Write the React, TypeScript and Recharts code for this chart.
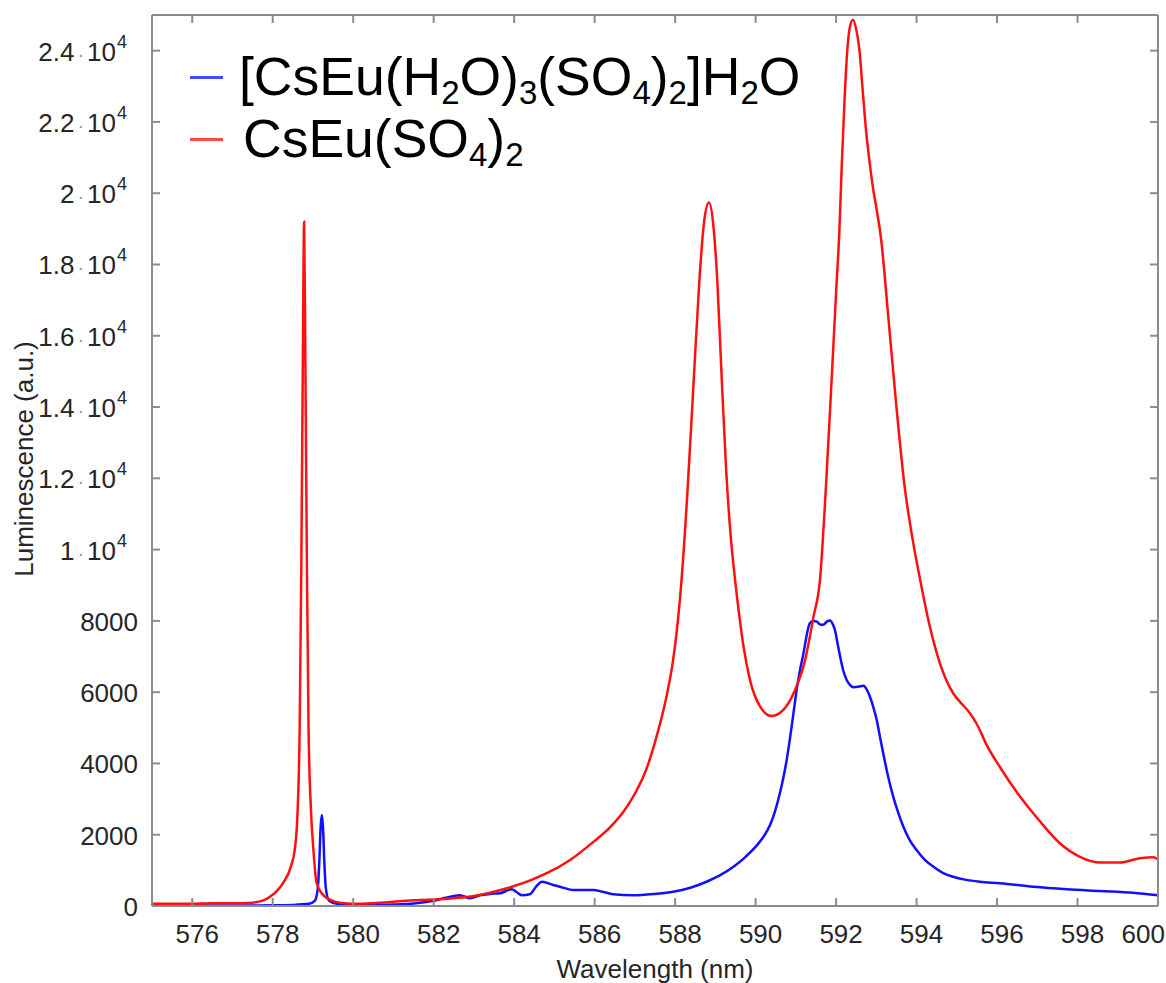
import React from "react";
import { LineChart, Line, XAxis, YAxis, Legend } from "recharts";

// [wavelength nm, luminescence a.u.]
const hydrateSpectrum: [number, number][] = [
  [575.0, 20], [576.0, 20], [577.0, 15], [578.0, 20], [578.5, 30], [578.9, 60],
  [579.05, 150], [579.12, 500], [579.16, 1300], [579.19, 2200], [579.22, 2550],
  [579.25, 2200], [579.28, 1300], [579.32, 500], [579.4, 150], [579.6, 60],
  [580.0, 30], [580.5, 30], [581.0, 40], [581.5, 70], [582.0, 150], [582.3, 230],
  [582.65, 300], [582.9, 220], [583.15, 300], [583.4, 340], [583.65, 360],
  [583.94, 470], [584.05, 400], [584.19, 300], [584.39, 330], [584.55, 550],
  [584.69, 680], [584.97, 590], [585.2, 520], [585.47, 450], [585.97, 450],
  [586.2, 400], [586.46, 330], [586.96, 300], [587.5, 340], [587.95, 400],
  [588.4, 520], [588.78, 680], [589.1, 850], [589.45, 1100], [589.75, 1380],
  [590.03, 1700], [590.2, 1950], [590.35, 2250], [590.48, 2650], [590.6, 3150],
  [590.69, 3600], [590.78, 4150], [590.86, 4750], [590.94, 5400], [591.02, 6060],
  [591.1, 6600], [591.19, 7090], [591.27, 7600], [591.35, 7940], [591.43, 8000],
  [591.52, 7980], [591.6, 7900], [591.68, 7890], [591.77, 7980], [591.85, 8010],
  [591.92, 7900], [591.97, 7750], [592.04, 7350], [592.1, 7000], [592.18, 6600],
  [592.26, 6350], [592.35, 6200], [592.43, 6140], [592.55, 6150], [592.68, 6180],
  [592.76, 6080], [592.84, 5880], [592.92, 5600], [593.01, 5220], [593.09, 4750],
  [593.17, 4290], [593.3, 3600], [593.42, 3070], [593.55, 2600], [593.67, 2230],
  [593.83, 1850], [594.0, 1570], [594.2, 1300], [594.42, 1100], [594.65, 930],
  [594.91, 820], [595.2, 740], [595.58, 680], [596.07, 640], [596.9, 540],
  [597.73, 470], [598.56, 420], [599.38, 370], [600.0, 300],
];

const anhydrousSpectrum: [number, number][] = [
  [575.0, 60], [575.5, 60], [576.0, 65], [576.5, 80], [577.0, 80], [577.4, 85],
  [577.6, 110], [577.8, 170], [577.93, 260], [578.1, 420], [578.26, 650], [578.45, 1100],
  [578.55, 1600], [578.62, 2700], [578.67, 5000], [578.71, 9500], [578.75, 15500],
  [578.78, 19200], [578.81, 15500], [578.85, 9500], [578.89, 5000], [578.95, 2700],
  [579.01, 1600], [579.09, 650], [579.3, 260], [579.67, 90], [580.0, 60], [580.5, 80],
  [581.0, 120], [581.33, 150], [582.0, 180], [582.5, 220], [583.0, 280], [583.5, 400],
  [584.0, 560], [584.4, 720], [584.81, 920], [585.4, 1300], [585.97, 1800],
  [586.35, 2170], [586.72, 2650], [587.0, 3150], [587.29, 3850], [587.55, 4800],
  [587.79, 5900], [587.95, 6900], [588.04, 7700], [588.16, 9150], [588.3, 11500],
  [588.45, 14500], [588.6, 17500], [588.72, 19200], [588.84, 19740], [588.95, 19100],
  [589.05, 17500], [589.15, 15000], [589.27, 12200], [589.38, 10400], [589.49, 9150],
  [589.6, 8100], [589.7, 7280], [589.86, 6345], [590.11, 5600], [590.4, 5330],
  [590.69, 5500], [590.98, 6060], [591.23, 6900], [591.44, 8120], [591.6, 9150],
  [591.75, 11800], [591.9, 15000], [592.0, 17200], [592.08, 18900], [592.14, 20750],
  [592.21, 22600], [592.28, 24030], [592.35, 24700], [592.42, 24870], [592.5, 24600],
  [592.58, 24030], [592.66, 22900], [592.75, 21700], [592.83, 20900], [592.91, 20200],
  [593.0, 19600], [593.12, 18700], [593.3, 16500], [593.5, 14000], [593.7, 11800],
  [593.9, 10300], [594.09, 9150], [594.33, 7840], [594.58, 6810], [594.91, 5970],
  [595.1, 5700], [595.3, 5450], [595.5, 5100], [595.75, 4500], [596.07, 3900],
  [596.57, 3070], [597.07, 2370], [597.56, 1760], [598.06, 1380], [598.56, 1220],
  [599.05, 1220], [599.55, 1340], [599.88, 1370], [600.0, 1310],
];

const wavelengthTicks = [576, 578, 580, 582, 584, 586, 588, 590, 592, 594, 596, 598, 600];
const intensityTicks = [0, 2000, 4000, 6000, 8000, 10000, 12000, 14000, 16000, 18000, 20000, 22000, 24000];

// legend names as [text, subscript?] runs
const hydrateName: [string, boolean][] = [
  ["[CsEu(H", false], ["2", true], ["O)", false], ["3", true], ["(SO", false],
  ["4", true], [")", false], ["2", true], ["]H", false], ["2", true], ["O", false],
];
const anhydrousName: [string, boolean][] = [
  ["CsEu(SO", false], ["4", true], [")", false], ["2", true],
];

const FRAME = "#8c8c8c";
const INK = "#262626";
const FONT = "'Liberation Sans', Arial, Helvetica, sans-serif";
const BLUE = "#1010ff";
const RED = "#ff1010";

const toPoints = (s: [number, number][]) => s.map(([x, y]) => ({ x, y }));

const XTickBottom = ({ x, y, payload }: any) => {
  const last = payload.value === 600;
  return (
    <g>
      <line x1={x} x2={x} y1={y} y2={y - 8} stroke={FRAME} strokeWidth={2} />
      <text
        x={last ? x + 7 : x + 5}
        y={y + 37}
        textAnchor={last ? "end" : "middle"}
        fontFamily={FONT}
        fontSize={26}
        fill={INK}
      >
        {payload.value}
      </text>
    </g>
  );
};

const XTickTop = ({ x, y }: any) => (
  <line x1={x} x2={x} y1={y} y2={y + 8} stroke={FRAME} strokeWidth={2} />
);

const YTickLeft = ({ x, y, payload }: any) => {
  const v = payload.value as number;
  return (
    <g>
      <line x1={x} x2={x + 8} y1={y} y2={y} stroke={FRAME} strokeWidth={2} />
      {v < 10000 ? (
        <text x={x - 14} y={y + 10} textAnchor="end" fontFamily={FONT} fontSize={26} fill={INK}>
          {v}
        </text>
      ) : (
        <text x={x - 25} y={y + 10} textAnchor="end" fontFamily={FONT} fontSize={26} fill={INK}>
          {String(v / 10000)}
          <tspan dx={3} fontSize={20} fill="#999">·</tspan>
          <tspan dx={3}>10</tspan>
          <tspan dx={1} dy={-13} fontSize={18}>4</tspan>
        </text>
      )}
    </g>
  );
};

const YTickRight = ({ x, y }: any) => (
  <line x1={x} x2={x - 8} y1={y} y2={y} stroke={FRAME} strokeWidth={2} />
);

const Formula = ({ runs }: { runs: [string, boolean][] }) => (
  <>
    {runs.map(([t, sub], i) =>
      sub ? (
        <span key={i} style={{ fontSize: 33, position: "relative", top: 9, lineHeight: 1 }}>
          {t}
        </span>
      ) : (
        <span key={i}>{t}</span>
      )
    )}
  </>
);

const legendRows = [
  { runs: hydrateName, color: "#4848ff", textLeft: 239 },
  { runs: anhydrousName, color: "#ff4848", textLeft: 243 },
];

const renderLegend = () => (
  <div style={{ position: "relative", width: 1166, height: 0, fontFamily: FONT, fontSize: 53.5, color: "#000" }}>
    {legendRows.map((r, i) => (
      <div key={i} style={{ position: "absolute", left: 0, top: 46 + i * 62, height: 62, lineHeight: "62px", whiteSpace: "nowrap" }}>
        <div style={{ position: "absolute", left: 190, top: 30, width: 33, height: 3, background: r.color }} />
        <div style={{ position: "absolute", left: r.textLeft, top: 0 }}>
          <Formula runs={r.runs} />
        </div>
      </div>
    ))}
  </div>
);

export default function App() {
  return (
    <div style={{ position: "absolute", left: 0, top: 0, background: "#fff" }}>
      <LineChart width={1166} height={983} margin={{ top: 14, right: 7, bottom: 0, left: 0 }}>
        <XAxis
          xAxisId="b"
          dataKey="x"
          type="number"
          domain={[575, 600]}
          allowDataOverflow
          ticks={wavelengthTicks}
          interval={0}
          height={77}
          tickSize={0}
          tickMargin={0}
          tickLine={false}
          axisLine={{ stroke: FRAME, strokeWidth: 2 }}
          tick={<XTickBottom />}
          label={() => (
            <text x={655} y={978} textAnchor="middle" fontFamily={FONT} fontSize={26} fill={INK}>
              Wavelength (nm)
            </text>
          )}
        />
        <XAxis
          xAxisId="t"
          dataKey="x"
          type="number"
          orientation="top"
          domain={[575, 600]}
          allowDataOverflow
          ticks={wavelengthTicks}
          interval={0}
          height={1}
          tickSize={0}
          tickMargin={0}
          tickLine={false}
          axisLine={{ stroke: FRAME, strokeWidth: 2 }}
          tick={<XTickTop />}
        />
        <YAxis
          yAxisId="l"
          type="number"
          domain={[0, 25000]}
          allowDataOverflow
          ticks={intensityTicks}
          interval={0}
          width={152}
          tickSize={0}
          tickMargin={0}
          tickLine={false}
          axisLine={{ stroke: FRAME, strokeWidth: 2 }}
          tick={<YTickLeft />}
          label={() => (
            <text
              x={33}
              y={459}
              textAnchor="middle"
              fontFamily={FONT}
              fontSize={26}
              fill={INK}
              transform="rotate(-90, 33, 459)"
            >
              Luminescence (a.u.)
            </text>
          )}
        />
        <YAxis
          yAxisId="r"
          type="number"
          orientation="right"
          domain={[0, 25000]}
          allowDataOverflow
          ticks={intensityTicks}
          interval={0}
          width={1}
          tickSize={0}
          tickMargin={0}
          tickLine={false}
          axisLine={{ stroke: FRAME, strokeWidth: 2 }}
          tick={<YTickRight />}
        />
        <Legend
          layout="vertical"
          align="center"
          verticalAlign="middle"
          content={renderLegend}
          wrapperStyle={{ left: 0, top: 0, width: 1166, height: 0 }}
        />
        <Line
          xAxisId="b"
          yAxisId="l"
          data={toPoints(hydrateSpectrum)}
          dataKey="y"
          type="monotone"
          stroke={BLUE}
          strokeWidth={2.5}
          dot={false}
          isAnimationActive={false}
        />
        <Line
          xAxisId="b"
          yAxisId="l"
          data={toPoints(anhydrousSpectrum)}
          dataKey="y"
          type="monotone"
          stroke={RED}
          strokeWidth={2.5}
          dot={false}
          isAnimationActive={false}
        />
      </LineChart>
    </div>
  );
}
